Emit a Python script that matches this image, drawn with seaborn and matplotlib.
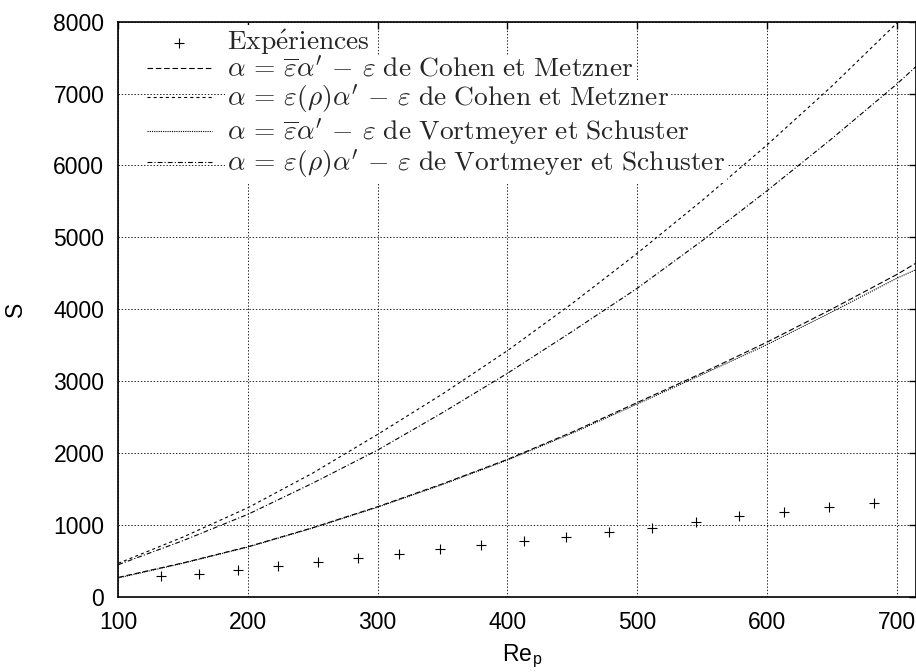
import matplotlib
matplotlib.use("Agg")
import matplotlib.pyplot as plt
import seaborn as sns
import pandas as pd

# Points expérimentaux
rep_exp = [132.8, 162.5, 192.5, 223.4, 254.3, 284.6, 316.3, 347.9, 380.0,
           412.5, 445.3, 478.2, 511.4, 545.1, 578.7, 613.2, 648.0, 682.9]
s_exp = [284, 322, 376, 425, 478, 538, 598, 659, 719,
         779, 836, 900, 958, 1035, 1122, 1182, 1248, 1299]

# Courbes des modèles
rep_mod = [100, 150, 200, 250, 300, 350, 400, 450, 500, 550, 600, 650, 700, 715]
s_cohen_bar = [268, 470, 695, 960, 1252, 1570, 1910, 2290, 2700, 3110, 3540, 4000, 4480, 4640]
s_cohen_rho = [464, 830, 1238, 1720, 2258, 2820, 3422, 4080, 4776, 5510, 6282, 7100, 7975, 8250]
s_vort_bar = [260, 465, 690, 955, 1245, 1560, 1900, 2275, 2680, 3090, 3505, 3960, 4428, 4550]
s_vort_rho = [445, 780, 1146, 1580, 2040, 2560, 3107, 3690, 4289, 4950, 5645, 6370, 7128, 7375]

labels = [
    r"$\mathrm{Exp\acute{e}riences}$",
    r"$\alpha\,=\,\overline{\varepsilon}\alpha'\,-\,\varepsilon\ \mathrm{de\ Cohen\ et\ Metzner}$",
    r"$\alpha\,=\,\varepsilon(\rho)\alpha'\,-\,\varepsilon\ \mathrm{de\ Cohen\ et\ Metzner}$",
    r"$\alpha\,=\,\overline{\varepsilon}\alpha'\,-\,\varepsilon\ \mathrm{de\ Vortmeyer\ et\ Schuster}$",
    r"$\alpha\,=\,\varepsilon(\rho)\alpha'\,-\,\varepsilon\ \mathrm{de\ Vortmeyer\ et\ Schuster}$",
]

sns.set_theme(style="white")
plt.rcParams["font.family"] = ["Liberation Sans", "DejaVu Sans"]
plt.rcParams["mathtext.fontset"] = "cm"
plt.rcParams["lines.scale_dashes"] = False

fig = plt.figure(figsize=(9.16, 6.72), dpi=100)
ax = fig.add_axes([0.1291, 0.1121, 0.8709, 0.8557])

df_exp = pd.DataFrame({"Re": rep_exp, "S": s_exp})
sns.scatterplot(data=df_exp, x="Re", y="S", marker="+", s=45, color="black",
                linewidth=0.8, label=labels[0], ax=ax, zorder=3)

styles = [(0, (4, 2)), (0, (2.2, 2.2)), (0, (0.8, 0.8)), (0, (3.5, 1.5, 0.8, 1.5))]
series = [s_cohen_bar, s_cohen_rho, s_vort_bar, s_vort_rho]
for serie, ls, lab in zip(series, styles, labels[1:]):
    sns.lineplot(x=rep_mod, y=serie, color="black", linewidth=0.8,
                 linestyle=ls, label=lab, ax=ax, zorder=3)

ax.set_xlim(100, 715)
ax.set_ylim(0, 8000)
ax.set_xticks(range(100, 701, 100))
ax.set_yticks(range(0, 8001, 1000))
ax.grid(True, color="black", linestyle=(0, (1, 1.3)), linewidth=0.6)
ax.tick_params(direction="in", length=5, width=1, top=True, right=True,
               labelsize=16.5, colors="black", pad=10)
for sp in ax.spines.values():
    sp.set_color("black")
    sp.set_linewidth(1.2)

ax.set_xlabel(r"Re$_\mathregular{p}$", fontsize=16.5, color="black")
ax.set_ylabel("S", fontsize=16.5, color="black")
ax.xaxis.set_label_coords(0.506, -0.08)
ax.yaxis.set_label_coords(-0.115, 0.5)

leg = ax.legend(loc="upper left", bbox_to_anchor=(0.036, 0.99), frameon=False,
                fontsize=19.8, handlelength=2.35, handletextpad=0.55,
                labelspacing=0.01, borderpad=0, borderaxespad=0)
for t in leg.get_texts():
    t.set_bbox(dict(facecolor="white", edgecolor="none", pad=1.5))
for h in leg.legend_handles:
    h.set_color("black")

fig.savefig("out.png", dpi=100)
